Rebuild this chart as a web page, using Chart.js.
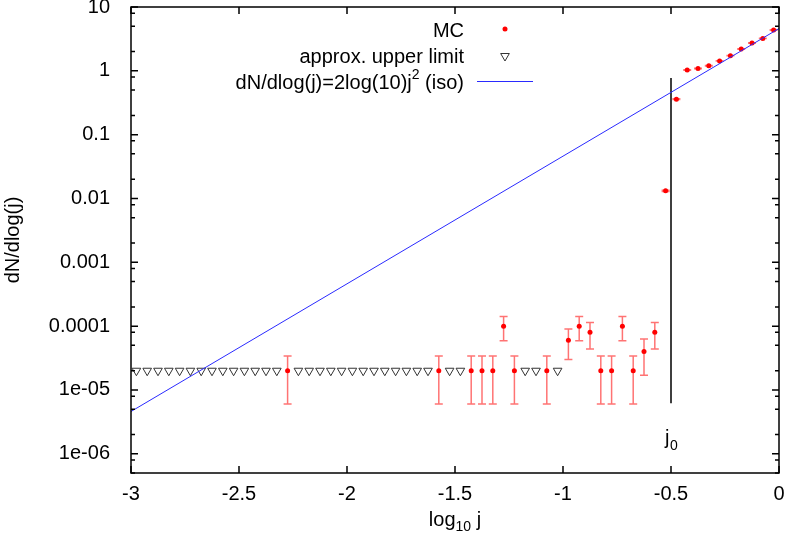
<!DOCTYPE html>
<html lang="en">
<head>
<meta charset="UTF-8">
<title>dN/dlog(j)</title>
<script src="https://cdn.jsdelivr.net/npm/chart.js"></script>
<style>
  html, body { margin: 0; padding: 0; background: #fff; }
</style>
</head>
<body>
<canvas id="chart" width="789" height="537"></canvas>
<script>
// MC bins: centre of each log10 j bin, value and error bar ends
const mcX  = [-2.275, -1.575, -1.425, -1.375, -1.325, -1.275, -1.225, -1.075, -0.975, -0.925,
              -0.875, -0.825, -0.775, -0.725, -0.675, -0.625, -0.575, -0.525, -0.475, -0.425,
              -0.375, -0.325, -0.275, -0.225, -0.175, -0.125, -0.075, -0.025];
const mcY  = [2e-5, 2e-5, 2e-5, 2e-5, 2e-5, 1e-4, 2e-5, 2e-5, 6e-5, 1e-4,
              8e-5, 2e-5, 2e-5, 1e-4, 2e-5, 4e-5, 8e-5, 0.0132, 0.36, 1.03,
              1.09, 1.20, 1.43, 1.73, 2.20, 2.73, 3.22, 4.36];
const mcLo = [6e-6, 6e-6, 6e-6, 6e-6, 6e-6, 5.9e-5, 6e-6, 6e-6, 3.0e-5, 5.9e-5,
              4.4e-5, 6e-6, 6e-6, 5.9e-5, 6e-6, 1.7e-5, 4.4e-5, 0.0129, 0.355, 1.02,
              1.08, 1.19, 1.42, 1.72, 2.18, 2.71, 3.20, 4.33];
const mcHi = [3.4e-5, 3.4e-5, 3.4e-5, 3.4e-5, 3.4e-5, 1.41e-4, 3.4e-5, 3.4e-5, 9.0e-5, 1.41e-4,
              1.14e-4, 3.4e-5, 3.4e-5, 1.41e-4, 3.4e-5, 6.3e-5, 1.14e-4, 0.0135, 0.365, 1.04,
              1.10, 1.21, 1.44, 1.74, 2.22, 2.75, 3.24, 4.39];

// empty bins: approx. upper limit
const ulX = [-2.975, -2.925, -2.875, -2.825, -2.775, -2.725, -2.675, -2.625, -2.575, -2.525,
             -2.475, -2.425, -2.375, -2.325, -2.225, -2.175, -2.125, -2.075, -2.025, -1.975,
             -1.925, -1.875, -1.825, -1.775, -1.725, -1.675, -1.625, -1.525, -1.475, -1.175,
             -1.125, -1.025];
const ulY = [2e-5, 2e-5, 2e-5, 2e-5, 2e-5, 2e-5, 2e-5, 2e-5, 2e-5, 2e-5,
             2e-5, 2e-5, 2e-5, 2e-5, 2e-5, 2e-5, 2e-5, 2e-5, 2e-5, 2e-5,
             2e-5, 2e-5, 2e-5, 2e-5, 2e-5, 2e-5, 2e-5, 2e-5, 2e-5, 2e-5,
             2e-5, 2e-5];

// isotropic curve end points and the j0 marker
const isoX = [-3, 0];
const isoY = [4.6e-6, 4.6];
const j0X = [-0.5, -0.5];
const j0Y = [0.77, 6.2e-6];

const xTicks = [-3, -2.5, -2, -1.5, -1, -0.5, 0];
const xTickLabels = ['-3', '-2.5', '-2', '-1.5', '-1', '-0.5', '0'];
const yTicks = [1e-6, 1e-5, 1e-4, 1e-3, 1e-2, 0.1, 1, 10];
const yTickLabels = ['1e-06', '1e-05', '0.0001', '0.001', '0.01', '0.1', '1', '10'];
const yMinorFactors = [2, 5, 8];

const FONT = '20px "Liberation Sans", Arial, sans-serif';
const SMALL = '14px "Liberation Sans", Arial, sans-serif';
const pts = (xs, ys) => xs.map((x, i) => ({ x: x, y: ys[i] }));

function triangleDown(ctx, x, y, r) {
  ctx.beginPath();
  ctx.moveTo(x - r * 0.87, y - r * 0.5);
  ctx.lineTo(x + r * 0.87, y - r * 0.5);
  ctx.lineTo(x, y + r);
  ctx.closePath();
  ctx.stroke();
}

// error bars under the MC points
const errorBars = {
  id: 'errorBars',
  beforeDatasetsDraw(chart) {
    const { ctx, scales: { x, y } } = chart;
    ctx.save();
    ctx.strokeStyle = 'rgba(255,0,0,0.55)';
    ctx.lineWidth = 1.5;
    mcX.forEach((v, i) => {
      const px = x.getPixelForValue(v);
      const lo = y.getPixelForValue(mcLo[i]);
      const hi = y.getPixelForValue(mcHi[i]);
      ctx.beginPath();
      ctx.moveTo(px, lo); ctx.lineTo(px, hi);
      ctx.moveTo(px - 4, lo); ctx.lineTo(px + 4, lo);
      ctx.moveTo(px - 4, hi); ctx.lineTo(px + 4, hi);
      ctx.stroke();
    });
    ctx.restore();
  }
};

// gnuplot style frame, inward ticks, titles and key
const frame = {
  id: 'frame',
  afterDraw(chart) {
    const { ctx, chartArea: a, scales: { x, y } } = chart;
    ctx.save();
    ctx.strokeStyle = '#000';
    ctx.lineWidth = 1.5;
    ctx.strokeRect(a.left, a.top, a.right - a.left, a.bottom - a.top);

    ctx.beginPath();
    xTicks.forEach(v => {
      const px = x.getPixelForValue(v);
      ctx.moveTo(px, a.bottom); ctx.lineTo(px, a.bottom - 7);
      ctx.moveTo(px, a.top); ctx.lineTo(px, a.top + 7);
    });
    yTicks.forEach(v => {
      const py = y.getPixelForValue(v);
      ctx.moveTo(a.left, py); ctx.lineTo(a.left + 7, py);
      ctx.moveTo(a.right, py); ctx.lineTo(a.right - 7, py);
      yMinorFactors.forEach(f => {
        const m = v * f / 10;
        if (m < y.min || m > y.max) return;
        const pm = y.getPixelForValue(m);
        ctx.moveTo(a.left, pm); ctx.lineTo(a.left + 4, pm);
        ctx.moveTo(a.right, pm); ctx.lineTo(a.right - 4, pm);
      });
    });
    ctx.stroke();

    ctx.fillStyle = '#000';
    ctx.textBaseline = 'alphabetic';

    // x title: log10 j
    ctx.font = FONT;
    const w1 = ctx.measureText('log').width;
    const w3 = ctx.measureText(' j').width;
    ctx.font = SMALL;
    const w2 = ctx.measureText('10').width;
    let sx = (a.left + a.right) / 2 - (w1 + w2 + w3) / 2;
    ctx.textAlign = 'left';
    ctx.font = FONT; ctx.fillText('log', sx, 526);
    ctx.font = SMALL; ctx.fillText('10', sx + w1, 531);
    ctx.font = FONT; ctx.fillText(' j', sx + w1 + w2, 526);

    // y title
    ctx.save();
    ctx.translate(19, (a.top + a.bottom) / 2);
    ctx.rotate(-Math.PI / 2);
    ctx.textAlign = 'center';
    ctx.font = FONT;
    ctx.fillText('dN/dlog(j)', 0, 0);
    ctx.restore();

    // j0 label
    const jx = x.getPixelForValue(-0.5) - 6;
    ctx.font = FONT; ctx.fillText('j', jx, 444);
    ctx.font = SMALL; ctx.fillText('0', jx + 5, 450);

    // key
    const kx = 464;
    ctx.textAlign = 'right';
    ctx.textBaseline = 'middle';
    ctx.font = FONT;
    ctx.fillText('MC', kx, 31);
    ctx.fillText('approx. upper limit', kx, 57);
    const p1 = 'dN/dlog(j)=2log(10)j', p3 = ' (iso)';
    const q1 = ctx.measureText(p1).width, q3 = ctx.measureText(p3).width;
    ctx.font = SMALL;
    const q2 = ctx.measureText('2').width;
    ctx.textAlign = 'left';
    let lx = kx - q1 - q2 - q3;
    ctx.font = FONT; ctx.fillText(p1, lx, 83);
    ctx.font = SMALL; ctx.fillText('2', lx + q1, 75);
    ctx.font = FONT; ctx.fillText(p3, lx + q1 + q2, 83);

    ctx.fillStyle = '#ff0000';
    ctx.beginPath(); ctx.arc(505, 29, 2.5, 0, Math.PI * 2); ctx.fill();
    ctx.strokeStyle = '#333'; ctx.lineWidth = 1;
    triangleDown(ctx, 505, 56, 5);
    ctx.strokeStyle = '#2a2aff';
    ctx.beginPath(); ctx.moveTo(477, 81.5); ctx.lineTo(533, 81.5); ctx.stroke();
    ctx.restore();
  }
};

new Chart(document.getElementById('chart'), {
  type: 'scatter',
  data: {
    datasets: [
      { label: 'dN/dlog(j)=2log(10)j^2 (iso)', data: pts(isoX, isoY), showLine: true,
        borderColor: '#2a2aff', borderWidth: 1, pointRadius: 0 },
      { label: 'j0', data: pts(j0X, j0Y), showLine: true,
        borderColor: '#000', borderWidth: 1.5, pointRadius: 0 },
      { label: 'approx. upper limit', data: pts(ulX, ulY), pointStyle: 'triangle', rotation: 180,
        pointRadius: 5, borderColor: '#333', borderWidth: 1, backgroundColor: 'rgba(0,0,0,0)' },
      { label: 'MC', data: pts(mcX, mcY), pointRadius: 2.5,
        backgroundColor: '#ff0000', borderWidth: 0 }
    ]
  },
  options: {
    responsive: false,
    animation: false,
    devicePixelRatio: 1,
    layout: { padding: { top: 7, right: 10, left: 0, bottom: 0 } },
    plugins: { legend: { display: false }, tooltip: { enabled: false } },
    scales: {
      x: {
        type: 'linear', min: -3, max: 0,
        grid: { display: false }, border: { display: false },
        afterBuildTicks: s => { s.ticks = xTicks.map(v => ({ value: v })); },
        ticks: {
          callback: (v, i) => xTickLabels[i],
          font: { family: '"Liberation Sans", Arial, sans-serif', size: 20 },
          color: '#000', padding: 1, maxRotation: 0, autoSkip: false
        },
        afterFit: s => { s.height = 64; s.paddingLeft = 0; s.paddingRight = 0; }
      },
      y: {
        type: 'logarithmic', min: 5e-7, max: 10,
        grid: { display: false }, border: { display: false },
        afterBuildTicks: s => { s.ticks = yTicks.map(v => ({ value: v })); },
        ticks: {
          callback: (v, i) => yTickLabels[i],
          font: { family: '"Liberation Sans", Arial, sans-serif', size: 20 },
          color: '#000', padding: 13, autoSkip: false
        },
        afterFit: s => { s.width = 131; s.paddingTop = 0; s.paddingBottom = 0; }
      }
    }
  },
  plugins: [errorBars, frame]
});
</script>
</body>
</html>
